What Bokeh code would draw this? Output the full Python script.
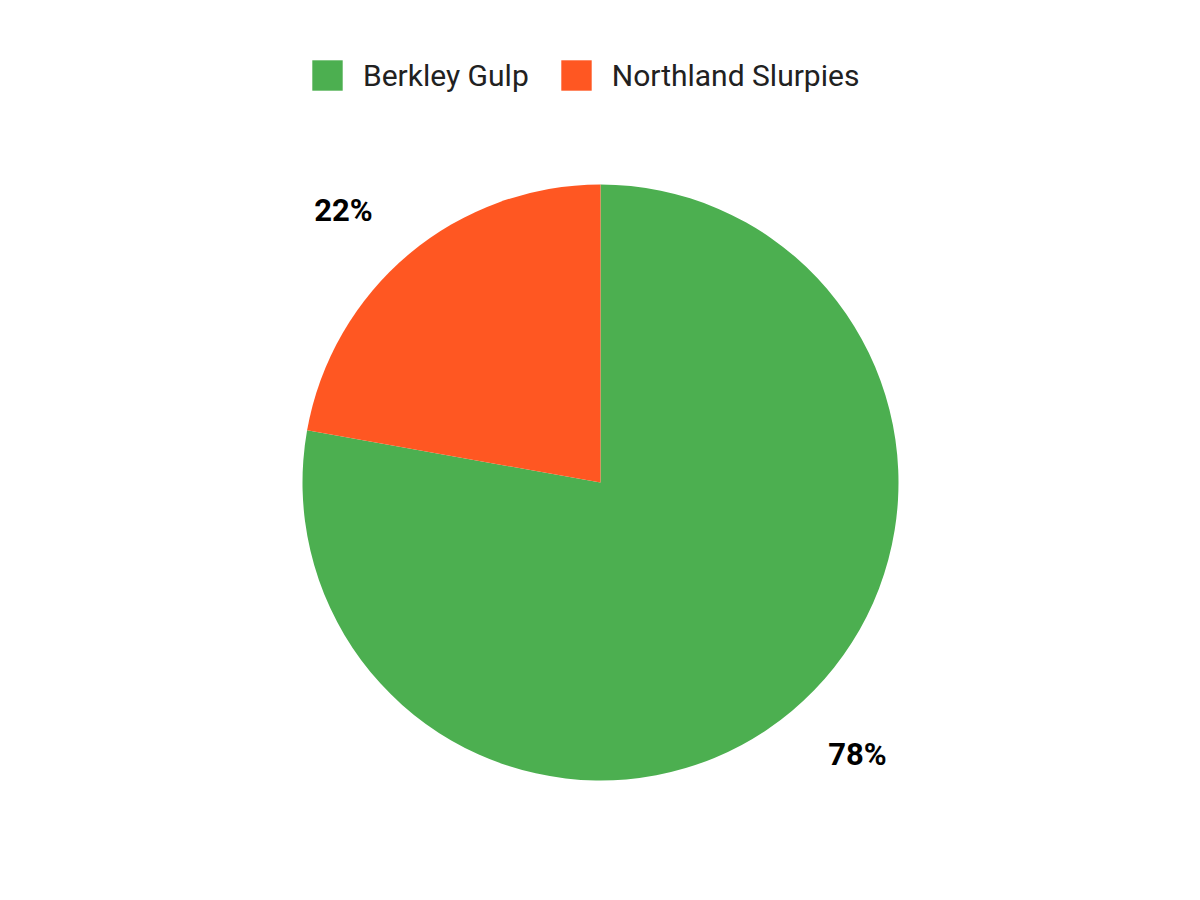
import math
from bokeh.plotting import figure
from bokeh.models import ColumnDataSource, Legend, LegendItem
from bokeh.core.properties import value
from bokeh.embed import file_html
from bokeh.resources import INLINE

categories = ["Berkley Gulp", "Northland Slurpies"]
values = [77.8, 22.2]
colors = ["#4CAF50", "#FF5722"]

W, H = 1184, 884
R = 298
# pie centre at figure (600, 482)
p = figure(width=W, height=H, x_range=(-600, W - 600), y_range=(-(H - 482), 482),
           output_backend="svg", toolbar_location=None, min_border=0)
p.axis.visible = False
p.grid.visible = False
p.outline_line_color = None
p.background_fill_color = "white"
p.border_fill_color = "white"

total = sum(values)
starts, ends, lx, ly, labels, aligns = [], [], [], [], [], []
a = math.pi / 2
for v in values:
    span = v / total * 2 * math.pi
    starts.append(a)
    ends.append(a - span)
    mid = a - span / 2
    lx.append(1.19 * R * math.cos(mid))
    ly.append(1.19 * R * math.sin(mid))
    aligns.append("right" if math.cos(mid) < 0 else "left")
    labels.append(f"{round(v / total * 100)}%")
    a -= span

src = ColumnDataSource(dict(start=starts, end=ends, color=colors, cat=categories,
                            lx=lx, ly=ly, label=labels, align=aligns))
p.wedge(x=0, y=0, radius=R, start_angle="start", end_angle="end", direction="clock",
        fill_color="color", line_color=None, source=src)

p.text(x="lx", y="ly", text="label", source=src, text_align="align",
       text_baseline="middle", text_font=value("Roboto"), text_font_style="bold",
       text_font_size="31px", text_color="#000000")

items = []
for c, col in zip(categories, colors):
    r = p.rect(x=[100000], y=[100000], width=1, height=1, fill_color=col, line_color=None)
    items.append(LegendItem(label=c, renderers=[r]))

legend = Legend(items=items, orientation="horizontal",
                label_text_font="Roboto", label_text_font_size="30px",
                label_text_color="#212121", glyph_width=38, glyph_height=38,
                label_standoff=17, spacing=28, padding=0, margin=0,
                border_line_color=None, background_fill_alpha=0)
p.add_layout(legend, "center")
legend.location = (308, H - 94)

open("out.html", "w").write(file_html(p, INLINE))
